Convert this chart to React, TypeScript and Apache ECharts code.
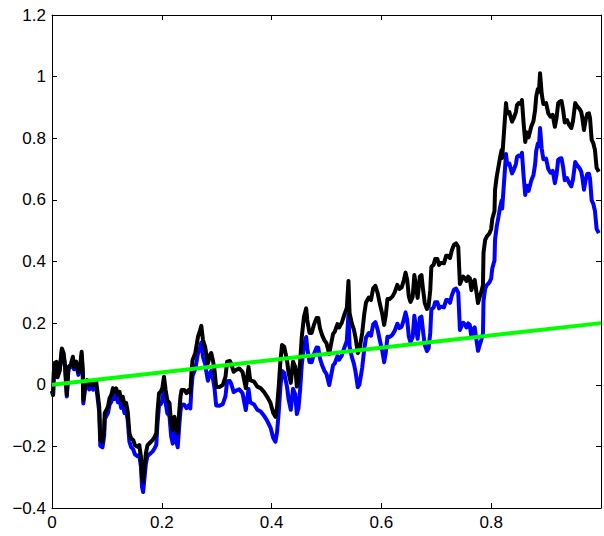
import React, { useEffect, useRef } from "react";
import * as echarts from "echarts";

const xValues = [
  0, 0.002, 0.004, 0.008, 0.010, 0.014, 0.018, 0.021, 0.024, 0.027,
  0.030, 0.034, 0.038, 0.040, 0.044, 0.048, 0.051, 0.054, 0.056, 0.057,
  0.060, 0.064, 0.068, 0.072, 0.075, 0.080, 0.082, 0.086, 0.088, 0.092,
  0.095, 0.096, 0.099, 0.102, 0.105, 0.108, 0.111, 0.114, 0.117, 0.120,
  0.123, 0.126, 0.129, 0.132, 0.135, 0.138, 0.141, 0.144, 0.148, 0.151,
  0.156, 0.159, 0.162, 0.164, 0.166, 0.168, 0.171, 0.174, 0.178, 0.183,
  0.187, 0.190, 0.192, 0.195, 0.198, 0.201, 0.204, 0.207, 0.210, 0.214,
  0.217, 0.220, 0.223, 0.226, 0.229, 0.232, 0.234, 0.236, 0.241, 0.245,
  0.249, 0.252, 0.254, 0.256, 0.261, 0.264, 0.266, 0.270, 0.272, 0.275,
  0.279, 0.281, 0.284, 0.288, 0.290, 0.293, 0.296, 0.299, 0.305, 0.311,
  0.316, 0.319, 0.324, 0.326, 0.331, 0.335, 0.341, 0.347, 0.353, 0.358,
  0.361, 0.368, 0.374, 0.380, 0.386, 0.392, 0.398, 0.403, 0.407, 0.410,
  0.413, 0.416, 0.419, 0.423, 0.428, 0.431, 0.435, 0.439, 0.443, 0.446,
  0.449, 0.452, 0.455, 0.459, 0.463, 0.465, 0.469, 0.473, 0.477, 0.482,
  0.485, 0.488, 0.492, 0.496, 0.500, 0.505, 0.508, 0.512, 0.515, 0.520,
  0.523, 0.528, 0.533, 0.537, 0.540, 0.542, 0.546, 0.550, 0.553, 0.557,
  0.560, 0.565, 0.569, 0.572, 0.577, 0.581, 0.585, 0.589, 0.593, 0.597,
  0.602, 0.605, 0.608, 0.611, 0.615, 0.620, 0.624, 0.629, 0.633, 0.637,
  0.641, 0.644, 0.647, 0.650, 0.653, 0.657, 0.660, 0.663, 0.666, 0.670,
  0.673, 0.676, 0.679, 0.683, 0.686, 0.689, 0.691, 0.695, 0.698, 0.702,
  0.705, 0.708, 0.711, 0.714, 0.718, 0.721, 0.725, 0.728, 0.732, 0.736,
  0.740, 0.743, 0.746, 0.749, 0.752, 0.755, 0.758, 0.761, 0.764, 0.767,
  0.770, 0.773, 0.776, 0.779, 0.782, 0.785, 0.786, 0.789, 0.792, 0.797,
  0.800, 0.802, 0.806, 0.807, 0.810, 0.813, 0.816, 0.819, 0.820, 0.824,
  0.827, 0.829, 0.833, 0.836, 0.838, 0.841, 0.845, 0.847, 0.850, 0.854,
  0.856, 0.859, 0.862, 0.865, 0.868, 0.873, 0.877, 0.880, 0.882, 0.885,
  0.887, 0.889, 0.892, 0.895, 0.900, 0.904, 0.908, 0.912, 0.916, 0.919,
  0.922, 0.925, 0.928, 0.931, 0.934, 0.938, 0.942, 0.946, 0.949, 0.953,
  0.956, 0.961, 0.964, 0.966, 0.969, 0.972, 0.975, 0.978, 0.980, 0.983,
  0.986, 0.989, 0.992, 0.996,
];

const blackValues = [
  -0.020, -0.033, 0.070, 0.074, 0.026, 0.048, 0.118, 0.103, 0.058, -0.033,
  0.058, 0.064, 0.091, 0.058, 0.075, 0.042, 0.058, 0.107, 0.048, -0.050,
  -0.006, 0.015, -0.001, 0.010, -0.001, 0.015, -0.011, -0.071, -0.180, -0.185,
  -0.147, -0.092, -0.082, -0.071, -0.043, -0.033, -0.011, -0.023, -0.012, -0.033,
  -0.023, -0.050, -0.039, -0.066, -0.059, -0.088, -0.157, -0.173, -0.180, -0.196,
  -0.201, -0.196, -0.234, -0.299, -0.315, -0.277, -0.222, -0.196, -0.189, -0.180,
  -0.169, -0.157, -0.092, -0.027, -0.023, -0.011, 0.026, -0.017, -0.050, -0.059,
  -0.124, -0.147, -0.104, -0.136, -0.157, -0.082, -0.039, -0.017, -0.017, -0.027,
  -0.017, -0.027, 0.038, 0.080, 0.103, 0.135, 0.156, 0.178, 0.191, 0.145,
  0.123, 0.100, 0.070, 0.096, 0.103, 0.080, 0.048, -0.007, -0.007, -0.001,
  0.026, 0.075, 0.077, 0.070, 0.042, 0.048, 0.053, 0.042, -0.011, 0.058,
  0.015, 0.010, -0.006, -0.011, -0.023, -0.039, -0.059, -0.092, -0.104, -0.071,
  -0.006, 0.075, 0.129, 0.123, 0.080, 0.038, 0.006, 0.075, 0.058, -0.006,
  0.015, 0.075, 0.156, 0.221, 0.248, 0.210, 0.168, 0.168, 0.194, 0.217,
  0.217, 0.184, 0.161, 0.145, 0.135, 0.100, 0.129, 0.165, 0.172, 0.197,
  0.186, 0.202, 0.230, 0.249, 0.337, 0.233, 0.200, 0.178, 0.152, 0.103,
  0.113, 0.168, 0.233, 0.267, 0.283, 0.275, 0.313, 0.321, 0.299, 0.265,
  0.226, 0.194, 0.226, 0.278, 0.278, 0.286, 0.299, 0.324, 0.311, 0.316,
  0.340, 0.364, 0.340, 0.286, 0.269, 0.286, 0.356, 0.318, 0.282, 0.351,
  0.356, 0.307, 0.265, 0.246, 0.256, 0.307, 0.383, 0.389, 0.408, 0.408,
  0.389, 0.395, 0.395, 0.394, 0.419, 0.419, 0.411, 0.434, 0.454, 0.459,
  0.447, 0.327, 0.340, 0.351, 0.346, 0.337, 0.351, 0.346, 0.307, 0.333,
  0.340, 0.302, 0.265, 0.285, 0.301, 0.324, 0.428, 0.470, 0.481, 0.492,
  0.506, 0.538, 0.564, 0.632, 0.675, 0.705, 0.736, 0.762, 0.736, 0.838,
  0.914, 0.881, 0.885, 0.866, 0.854, 0.865, 0.885, 0.908, 0.914, 0.911,
  0.924, 0.850, 0.788, 0.819, 0.803, 0.838, 0.856, 0.892, 0.935, 0.960,
  0.951, 1.011, 0.944, 0.911, 0.914, 0.881, 0.870, 0.876, 0.837, 0.866,
  0.914, 0.919, 0.921, 0.892, 0.851, 0.859, 0.843, 0.833, 0.856, 0.914,
  0.905, 0.895, 0.885, 0.866, 0.827, 0.859, 0.879, 0.881, 0.865, 0.795,
  0.784, 0.762, 0.704, 0.691,
];

const blueValues = [
  -0.020, -0.033, 0.069, 0.072, 0.024, 0.045, 0.114, 0.099, 0.053, -0.038,
  0.052, 0.057, 0.083, 0.050, 0.066, 0.032, 0.048, 0.096, 0.037, -0.061,
  -0.018, 0.002, -0.015, -0.004, -0.016, -0.001, -0.027, -0.088, -0.198, -0.203,
  -0.166, -0.111, -0.102, -0.091, -0.064, -0.055, -0.033, -0.046, -0.035, -0.057,
  -0.048, -0.075, -0.065, -0.092, -0.086, -0.116, -0.185, -0.202, -0.210, -0.226,
  -0.232, -0.228, -0.266, -0.332, -0.348, -0.311, -0.256, -0.231, -0.225, -0.217,
  -0.206, -0.195, -0.130, -0.066, -0.063, -0.051, -0.015, -0.058, -0.092, -0.102,
  -0.167, -0.191, -0.149, -0.181, -0.203, -0.128, -0.086, -0.064, -0.065, -0.076,
  -0.067, -0.077, -0.013, 0.029, 0.051, 0.082, 0.103, 0.124, 0.137, 0.090,
  0.067, 0.044, 0.013, 0.038, 0.045, 0.021, -0.011, -0.067, -0.068, -0.063,
  -0.037, 0.011, 0.012, 0.005, -0.024, -0.019, -0.015, -0.027, -0.082, -0.014,
  -0.057, -0.064, -0.081, -0.087, -0.100, -0.117, -0.139, -0.173, -0.185, -0.153,
  -0.089, -0.008, 0.045, 0.038, -0.006, -0.048, -0.081, -0.013, -0.031, -0.095,
  -0.075, -0.015, 0.065, 0.129, 0.155, 0.117, 0.074, 0.073, 0.099, 0.121,
  0.120, 0.086, 0.063, 0.046, 0.035, -0.001, 0.027, 0.063, 0.069, 0.093,
  0.081, 0.096, 0.123, 0.142, 0.229, 0.125, 0.091, 0.068, 0.041, -0.008,
  0.001, 0.055, 0.119, 0.153, 0.168, 0.159, 0.196, 0.203, 0.180, 0.146,
  0.106, 0.073, 0.104, 0.156, 0.155, 0.162, 0.174, 0.198, 0.184, 0.189,
  0.212, 0.235, 0.211, 0.156, 0.138, 0.155, 0.224, 0.185, 0.149, 0.217,
  0.221, 0.172, 0.129, 0.109, 0.119, 0.169, 0.245, 0.250, 0.268, 0.268,
  0.248, 0.253, 0.253, 0.251, 0.275, 0.275, 0.266, 0.288, 0.308, 0.312,
  0.299, 0.178, 0.191, 0.201, 0.196, 0.186, 0.199, 0.194, 0.154, 0.180,
  0.186, 0.147, 0.110, 0.129, 0.145, 0.167, 0.271, 0.312, 0.323, 0.333,
  0.346, 0.378, 0.403, 0.471, 0.513, 0.542, 0.573, 0.598, 0.572, 0.673,
  0.749, 0.715, 0.718, 0.699, 0.686, 0.697, 0.716, 0.739, 0.744, 0.740,
  0.753, 0.678, 0.616, 0.646, 0.629, 0.663, 0.681, 0.716, 0.759, 0.783,
  0.774, 0.833, 0.766, 0.732, 0.734, 0.700, 0.688, 0.694, 0.654, 0.682,
  0.730, 0.734, 0.735, 0.706, 0.664, 0.671, 0.655, 0.644, 0.666, 0.723,
  0.714, 0.703, 0.692, 0.673, 0.633, 0.665, 0.684, 0.685, 0.669, 0.598,
  0.587, 0.564, 0.506, 0.492,
];

const trendX = [0, 1];
const trendY = [0, 0.2];

const xTickMin = 0;
const xTickMax = 1;
const xTickStep = 0.2;
const yTickMin = -0.4;
const yTickMax = 1.2;
const yTickStep = 0.2;

const FONT = "'Liberation Sans', Arial, Helvetica, sans-serif";

function fmt(v: number): string {
  const r = Math.round(v * 10) / 10;
  const s = String(r);
  return s.replace("-", "\u2212");
}

export default function App() {
  const ref = useRef<HTMLDivElement>(null);

  useEffect(() => {
    document.body.style.margin = "0";
    if (!ref.current) return;
    const chart = echarts.init(ref.current, undefined, { renderer: "svg" });

    const blackData = xValues.map((x, i) => [x, blackValues[i]]);
    const blueData = xValues.map((x, i) => [x, blueValues[i]]);
    const trendData = trendX.map((x, i) => [x, trendY[i]]);

    const axisCommon = {
      axisLine: { show: true, onZero: false, lineStyle: { color: "#000", width: 1 } },
      axisTick: { show: true, inside: true, length: 5, lineStyle: { color: "#000", width: 1 } },
      splitLine: { show: false },
    };

    chart.setOption({
      animation: false,
      backgroundColor: "#fff",
      grid: { left: 52, top: 15, width: 556, height: 493, containLabel: false },
      xAxis: [
        {
          type: "value",
          min: xTickMin,
          max: xTickMax,
          interval: xTickStep,
          position: "bottom",
          ...axisCommon,
          axisLabel: {
            show: true,
            margin: 6,
            color: "#000",
            fontSize: 17,
            fontFamily: FONT,
            formatter: (v: number) => (v >= 0.999 ? "" : fmt(v)),
          },
        },
        {
          type: "value",
          min: xTickMin,
          max: xTickMax,
          interval: xTickStep,
          position: "top",
          ...axisCommon,
          axisLabel: { show: false },
        },
      ],
      yAxis: [
        {
          type: "value",
          min: yTickMin,
          max: yTickMax,
          interval: yTickStep,
          position: "left",
          ...axisCommon,
          axisLabel: {
            show: true,
            margin: 6,
            color: "#000",
            fontSize: 17,
            fontFamily: FONT,
            formatter: (v: number) => fmt(v),
          },
        },
        {
          type: "value",
          min: yTickMin,
          max: yTickMax,
          interval: yTickStep,
          position: "right",
          ...axisCommon,
          axisLabel: { show: false },
        },
      ],
      series: [
        {
          type: "line",
          name: "blue",
          data: blueData,
          showSymbol: false,
          symbol: "none",
          lineStyle: { color: "#0000ff", width: 4, join: "round" },
          z: 2,
        },
        {
          type: "line",
          name: "black",
          data: blackData,
          showSymbol: false,
          symbol: "none",
          lineStyle: { color: "#000000", width: 4, join: "round" },
          z: 3,
        },
        {
          type: "line",
          name: "trend",
          data: trendData,
          showSymbol: false,
          symbol: "none",
          lineStyle: { color: "#00ff00", width: 4 },
          z: 4,
        },
      ],
    });

    return () => {
      chart.dispose();
    };
  }, []);

  return <div ref={ref} style={{ width: 604, height: 536 }} />;
}
